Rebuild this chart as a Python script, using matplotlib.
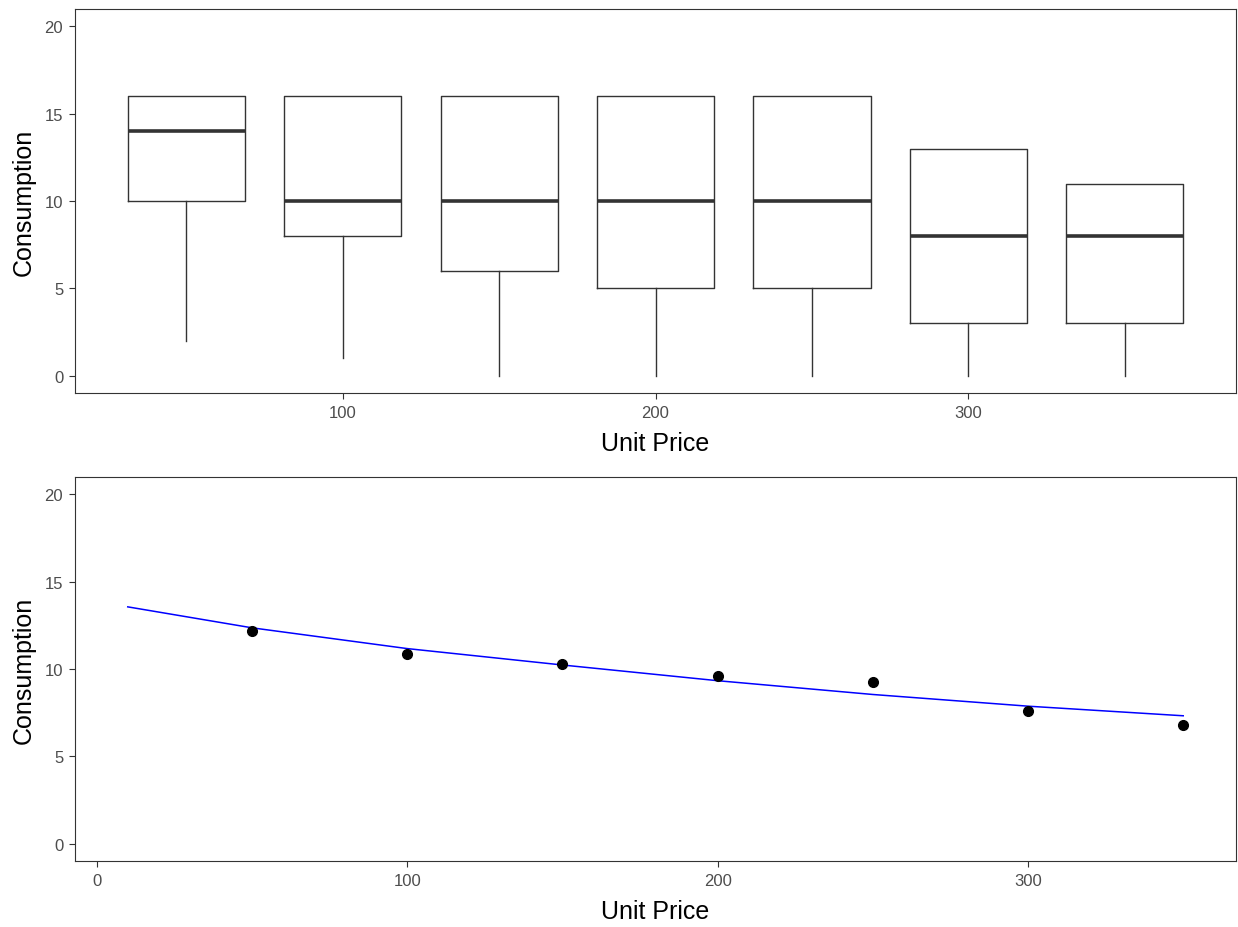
import matplotlib
matplotlib.use("Agg")
import matplotlib.pyplot as plt

plt.rcParams["font.family"] = ["Liberation Sans", "DejaVu Sans"]

# top panel: boxplot summaries per unit price
box_prices = [50, 100, 150, 200, 250, 300, 350]
box_low = [2, 1, 0, 0, 0, 0, 0]
box_q1 = [10, 8, 6, 5, 5, 3, 3]
box_median = [14, 10, 10, 10, 10, 8, 8]
box_q3 = [16, 16, 16, 16, 16, 13, 11]
box_high = [16, 16, 16, 16, 16, 13, 11]

# bottom panel: mean consumption and fitted curve
mean_prices = [50, 100, 150, 200, 250, 300, 350]
mean_consumption = [12.15, 10.87, 10.30, 9.61, 9.23, 7.58, 6.82]
fit_prices = [10, 50, 100, 150, 200, 250, 300, 350]
fit_consumption = [13.56, 12.36, 11.17, 10.23, 9.33, 8.54, 7.87, 7.32]

edge = "#333333"
tick_color = "#4D4D4D"

fig = plt.figure(figsize=(12.38, 9.28), dpi=100)
ax1 = fig.add_axes([75 / 1238, (928 - 394) / 928, 1161 / 1238, 384 / 928])
ax2 = fig.add_axes([75 / 1238, (928 - 862) / 928, 1161 / 1238, 384 / 928])

stats = []
for lo, q1, med, q3, hi in zip(box_low, box_q1, box_median, box_q3, box_high):
    stats.append({"whislo": lo, "q1": q1, "med": med, "q3": q3, "whishi": hi, "fliers": []})

ax1.bxp(
    stats,
    positions=box_prices,
    widths=37.5,
    showfliers=False,
    showcaps=False,
    manage_ticks=False,
    boxprops=dict(color=edge, linewidth=1.0),
    whiskerprops=dict(color=edge, linewidth=1.0),
    medianprops=dict(color=edge, linewidth=2.6, solid_capstyle="butt"),
)
ax1.set_xlim(14.375, 385.625)
ax1.set_xticks([100, 200, 300])

ax2.plot(fit_prices, fit_consumption, color="blue", linewidth=1.1)
ax2.plot(mean_prices, mean_consumption, "o", color="black", markersize=7)
ax2.set_xlim(-7, 367)
ax2.set_xticks([0, 100, 200, 300])

for ax in (ax1, ax2):
    ax.set_ylim(-1, 21)
    ax.set_yticks([0, 5, 10, 15, 20])
    ax.set_xlabel("Unit Price", fontsize=18, labelpad=8)
    ax.set_ylabel("Consumption", fontsize=18, labelpad=6)
    ax.tick_params(labelsize=12, labelcolor=tick_color, color=edge, length=4, width=0.8, pad=4.5)
    for s in ax.spines.values():
        s.set_color(edge)
        s.set_linewidth(0.8)

plt.savefig("out.png", dpi=100)
